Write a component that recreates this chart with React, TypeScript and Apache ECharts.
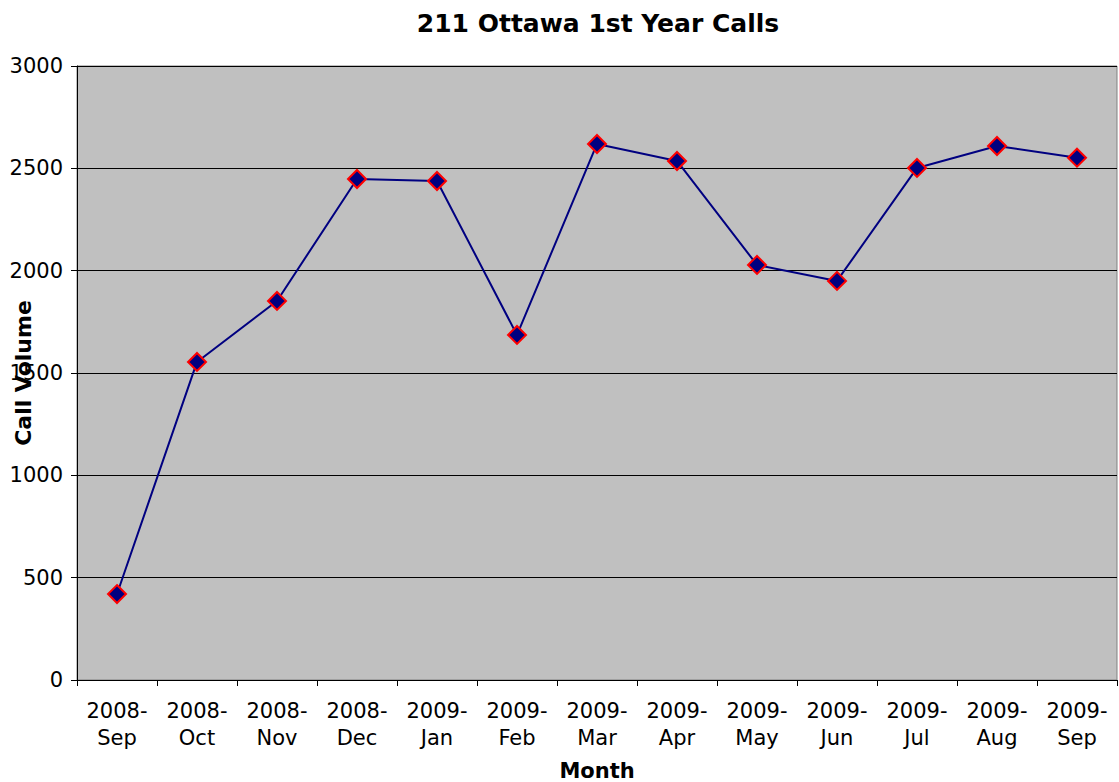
import React, { useEffect, useRef } from "react";
import * as echarts from "echarts";

const months = [
  "2008-\nSep", "2008-\nOct", "2008-\nNov", "2008-\nDec", "2009-\nJan", "2009-\nFeb", "2009-\nMar",
  "2009-\nApr", "2009-\nMay", "2009-\nJun", "2009-\nJul", "2009-\nAug", "2009-\nSep",
];
const callVolume = [420, 1554, 1852, 2448, 2438, 1686, 2619, 2536, 2028, 1950, 2502, 2609, 2552];

const FONT = "DejaVu Sans, Verdana, sans-serif";

export default function App() {
  const ref = useRef<HTMLDivElement>(null);
  useEffect(() => {
    const chart = echarts.init(ref.current!, null, { renderer: "svg" });
    chart.setOption({
      animation: false,
      backgroundColor: "#ffffff",
      title: {
        text: "211 Ottawa 1st Year Calls",
        left: 593,
        textAlign: "center",
        top: 6,
        textStyle: { fontFamily: FONT, fontSize: 25, fontWeight: "bold", color: "#000" },
      },
      grid: {
        left: 77,
        top: 66,
        right: 2,
        bottom: 102,
        containLabel: false,
        outerBoundsMode: "none",
        show: true,
        backgroundColor: "#c0c0c0",
        borderColor: "#808080",
        borderWidth: 1,
      },
      xAxis: {
        type: "category",
        data: months,
        boundaryGap: true,
        name: "Month",
        nameLocation: "middle",
        nameGap: 80,
        nameMoveOverlap: false,
        nameTextStyle: { fontFamily: FONT, fontSize: 21, fontWeight: "bold", color: "#000" },
        axisLine: { lineStyle: { color: "#000", width: 1 } },
        axisTick: { show: true, length: 6, alignWithLabel: false, lineStyle: { color: "#000" } },
        axisLabel: {
          fontFamily: FONT,
          fontSize: 21,
          color: "#000",
          margin: 17,
          lineHeight: 27,
          interval: 0,
        },
        splitLine: { show: false },
      },
      yAxis: {
        type: "value",
        min: 0,
        max: 3000,
        interval: 500,
        name: "Call Volume",
        nameLocation: "middle",
        nameGap: 43,
        nameMoveOverlap: false,
        nameTextStyle: { fontFamily: FONT, fontSize: 22, fontWeight: "bold", color: "#000" },
        axisLine: { show: true, lineStyle: { color: "#000", width: 1 } },
        axisTick: { show: true, length: 6, lineStyle: { color: "#000" } },
        axisLabel: {
          fontFamily: FONT,
          fontSize: 21,
          color: "#000",
          margin: 14,
          formatter: (v: number) => String(v),
        },
        splitLine: { show: true, lineStyle: { color: "#000", width: 1 } },
      },
      series: [
        {
          type: "line",
          data: callVolume,
          symbol: "diamond",
          symbolSize: 18,
          lineStyle: { color: "#000080", width: 2 },
          itemStyle: { color: "#000080", borderColor: "#ff0000", borderWidth: 2 },
        },
      ],
    });
    return () => chart.dispose();
  }, []);
  return <div ref={ref} style={{ width: 1119, height: 782, position: "absolute", left: 0, top: 0 }} />;
}
